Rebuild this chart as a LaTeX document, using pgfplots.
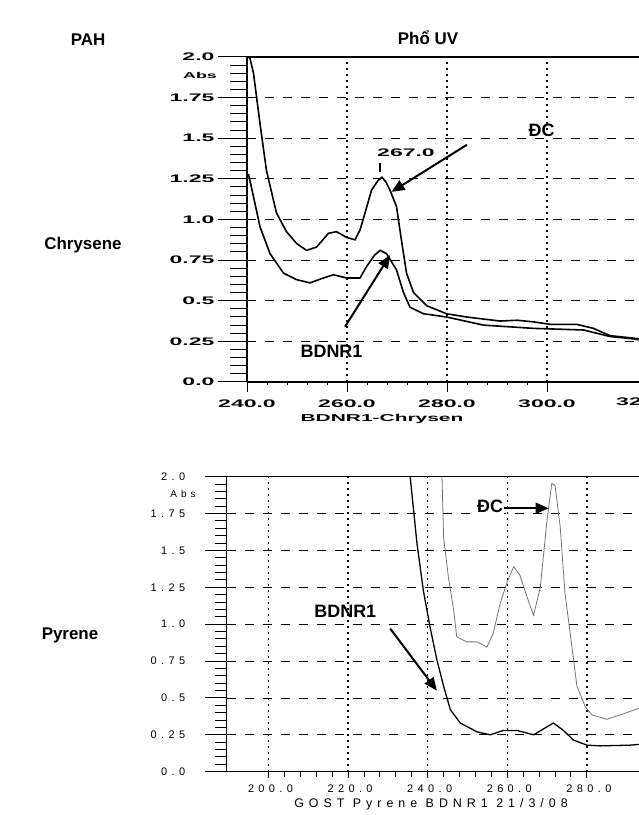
\documentclass[border=0pt]{standalone}
\usepackage{fontspec}
\setmainfont{Liberation Sans}
\newfontfamily\pixfont{Liberation Sans}[FakeStretch=2.1]
\newfontfamily\specfont{Liberation Sans}[LetterSpace=40]
\usepackage{pgfplots}
\pgfplotsset{compat=1.18}
\usetikzlibrary{arrows.meta}
\definecolor{dcgray}{gray}{0.45}

\pgfplotsset{
  uvplot/.style={
    scale only axis,
    axis x line*=bottom, axis y line*=left,
    tick align=outside,
    ymin=0, ymax=2,
    ytick={0,0.25,0.5,0.75,1,1.25,1.5,1.75,2},
    minor y tick num=4, minor x tick num=4,
    xmajorgrids, ymajorgrids,
    x grid style={black, line width=1.3pt, dash pattern=on 1.6bp off 4.4bp},
    y grid style={black, line width=0.8pt, dash pattern=on 9bp off 9bp},
    axis line style={black, line width=1.3pt},
    every tick/.style={black, line width=1pt},
    yticklabel style={anchor=east},
  },
}

\begin{document}
\begin{tikzpicture}
\useasboundingbox (0,0) rectangle (639bp,815bp);

% headings
\node[font=\bfseries\fontsize{17}{17}\selectfont] at (88bp,775bp) {PAH};
\node[font=\bfseries\fontsize{17}{17}\selectfont] at (428bp,777bp) {Phổ UV};
\node[font=\bfseries\fontsize{17}{17}\selectfont] at (83bp,570bp) {Chrysene};
\node[font=\bfseries\fontsize{17}{17}\selectfont] at (70bp,180bp) {Pyrene};

% ---------- Chrysene ----------
\begin{axis}[uvplot,
  at={(247bp,433bp)}, anchor=south west,
  width=392bp, height=325bp,
  xmin=240, xmax=318.4,
  xtick={240,260,280,300},
  xticklabels={240.0,260.0,280.0,300.0},
  yticklabels={0.0,0.25,0.5,0.75,1.0,1.25,1.5,1.75,2.0},
  major tick length=29bp, minor tick length=17bp,
  x tick style={/pgfplots/major tick length=10bp,/pgfplots/minor tick length=3bp},
  ticklabel style={font=\pixfont\bfseries\fontsize{11}{11}\selectfont},
  xticklabel style={yshift=15bp},
]
\addplot[black, line width=1.6pt] coordinates {
  (240.4,2.3) (240.6,1.99) (241.3,1.90) (242.6,1.59) (243.9,1.30) (245.9,1.04)
  (247.9,0.925) (249.9,0.853) (251.9,0.81) (253.9,0.83) (256.3,0.915) (257.9,0.925)
  (259.9,0.89) (261.6,0.875) (262.6,0.935) (263.6,1.04) (264.9,1.18) (266.2,1.24)
  (267.0,1.26) (267.8,1.23) (268.6,1.18) (269.9,1.08) (270.9,0.87) (271.9,0.67)
  (273.3,0.55) (275.9,0.47) (279.9,0.42) (283.9,0.40) (290.6,0.375) (294,0.38)
  (297.3,0.37) (300.6,0.355) (305.9,0.355) (309.3,0.33) (312.6,0.285) (317.3,0.27)
  (318.4,0.265)
};
\addplot[black, line width=1.6pt] coordinates {
  (240.3,1.28) (241.3,1.14) (242.6,0.955) (244.6,0.79) (247.3,0.67) (249.9,0.63)
  (252.6,0.61) (255.3,0.64) (257.3,0.66) (259.9,0.64) (262.6,0.64) (263.9,0.71)
  (265.5,0.78) (266.6,0.81) (267.9,0.79) (269.9,0.69) (271.3,0.55) (272.6,0.46)
  (275.3,0.42) (279.9,0.40) (287.3,0.35) (297.3,0.33) (307.3,0.32) (312.6,0.28)
  (317.3,0.265) (318.4,0.26)
};
\draw[black, line width=1.3pt] (axis cs:240,2) -- (axis cs:318.4,2);
\draw[black, line width=1.6pt] (axis cs:266.6,1.29) -- (axis cs:266.6,1.35);
\node[font=\pixfont\bfseries\fontsize{11}{11}\selectfont] at (axis cs:271.8,1.41) {267.0};
\draw[-{Triangle[length=13bp,width=11bp]}, line width=2bp] (axis cs:284,1.46) -- (axis cs:268.9,1.17);
\node[font=\bfseries\fontsize{18}{18}\selectfont] at (axis cs:298.9,1.55) {ĐC};
\draw[-{Triangle[length=13bp,width=11bp]}, line width=2bp] (axis cs:259.6,0.34) -- (axis cs:268.6,0.78);
\node[font=\bfseries\fontsize{18}{18}\selectfont] at (axis cs:256.9,0.186) {BDNR1};
\end{axis}
\node[font=\pixfont\bfseries\fontsize{8.5}{8.5}\selectfont] at (200bp,740bp) {Abs};
\node[font=\pixfont\bfseries\fontsize{11}{11}\selectfont] at (645bp,413bp) {320.0};
\node[font=\pixfont\bfseries\fontsize{10}{10}\selectfont] at (382bp,396bp) {BDNR1-Chrysen};

% ---------- Pyrene ----------
\begin{axis}[uvplot,
  at={(226.7bp,43.3bp)}, anchor=south west,
  width=412.3bp, height=295bp,
  xmin=189.5, xmax=293.1,
  xtick={200,220,240,260,280},
  xticklabels={200.0,220.0,240.0,260.0,280.0},
  yticklabels={0.0,0.25,0.5,0.75,1.0,1.25,1.5,1.75,2.0},
  major tick length=22bp, minor tick length=12bp,
  x tick style={/pgfplots/major tick length=6bp,/pgfplots/minor tick length=5bp},
  ticklabel style={font=\specfont\fontsize{11}{11}\selectfont},
  yticklabel style={xshift=-16bp},
  xticklabel style={yshift=12bp, xshift=2bp},
]
\addplot[dcgray, line width=0.8pt] coordinates {
  (243.5,2.1) (243.6,2.0) (244,1.59) (245.2,1.32) (246.5,1.10) (247.3,0.915)
  (249.8,0.88) (252.4,0.88) (254.9,0.845) (256.5,0.94) (258.2,1.14) (259.9,1.28)
  (261.6,1.39) (263.2,1.33) (264.9,1.19) (266.6,1.06) (268.3,1.25) (270,1.71)
  (271.2,1.955) (272.0,1.94) (273.3,1.66) (274.5,1.21) (275.8,0.94) (277.5,0.58)
  (279.6,0.44) (281.3,0.385) (285.0,0.355) (288.4,0.385) (293.1,0.43)
};
\addplot[black, line width=1.3pt] coordinates {
  (235.3,2.1) (235.6,2.0) (237.3,1.55) (238.9,1.23) (240.6,0.98) (242.3,0.76)
  (244.0,0.58) (245.7,0.42) (248.2,0.33) (252.4,0.27) (255.7,0.25) (259.0,0.28)
  (262.4,0.28) (266.6,0.25) (269.1,0.29) (271.6,0.33) (274.1,0.28) (276.6,0.215)
  (280,0.18) (283.3,0.175) (290.9,0.18) (293.1,0.185)
};
\draw[black, line width=1.3pt] (axis cs:189.5,2) -- (axis cs:293.1,2);
\draw[-{Triangle[length=13bp,width=11bp]}, line width=2bp] (axis cs:259.0,1.786) -- (axis cs:270.4,1.786);
\node[font=\bfseries\fontsize{18}{18}\selectfont, fill=white, inner sep=1pt] at (axis cs:255.7,1.80) {ĐC};
\draw[-{Triangle[length=13bp,width=11bp]}, line width=2bp] (axis cs:230.6,0.97) -- (axis cs:242.3,0.55);
\node[font=\bfseries\fontsize{18}{18}\selectfont] at (axis cs:219.3,1.085) {BDNR1};
\end{axis}
\node[font=\specfont\fontsize{10}{10}\selectfont] at (183bp,321bp) {Abs};
\node[font=\specfont\fontsize{12.5}{12.5}\selectfont] at (431bp,11bp) {GOST Pyrene BDNR1 21/3/08};
\end{tikzpicture}
\end{document}
